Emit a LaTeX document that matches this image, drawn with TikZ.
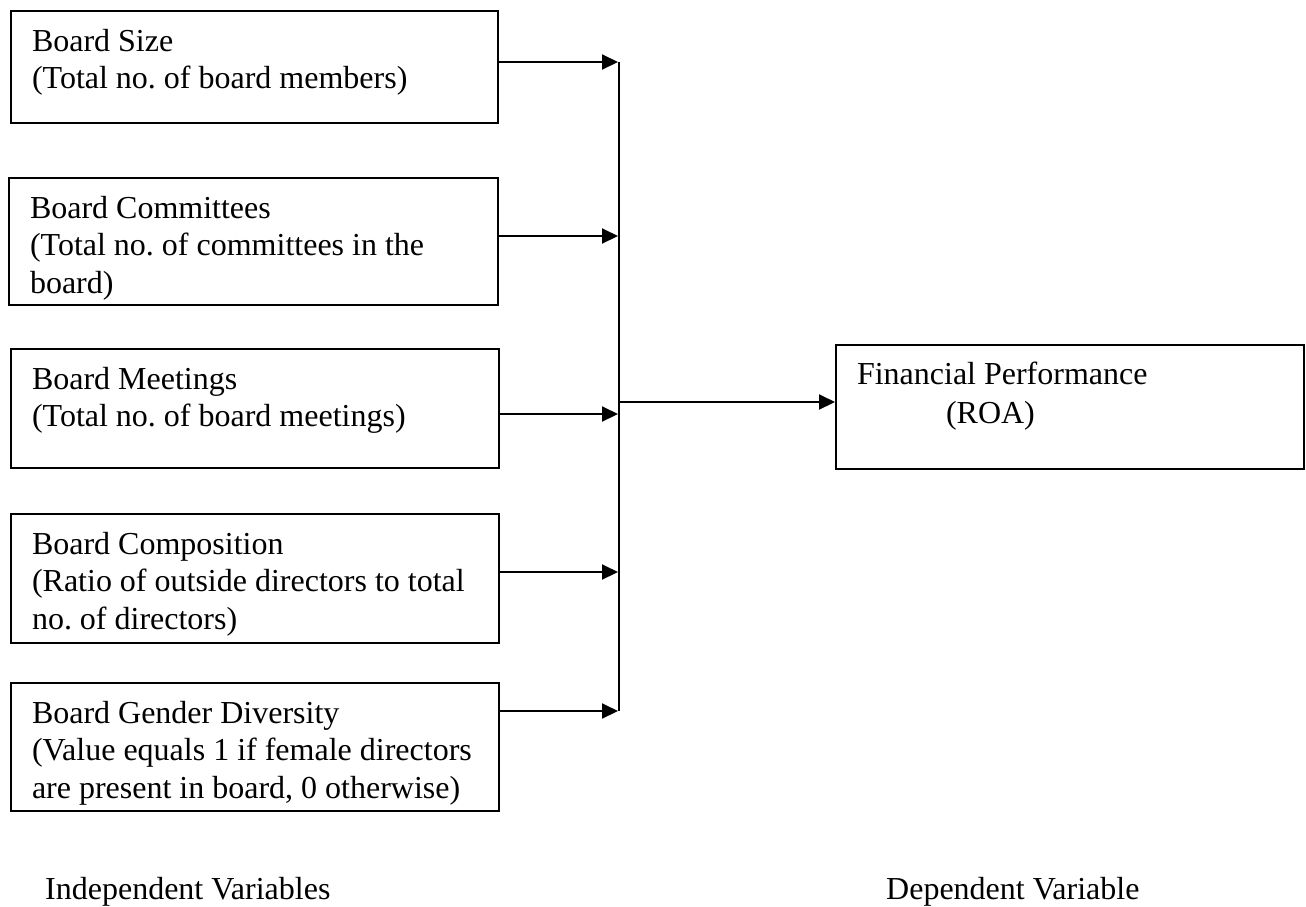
\documentclass[tikz,border=0pt]{standalone}
\usepackage{fontspec}
\setmainfont{Liberation Serif}
\usetikzlibrary{arrows.meta}
\frenchspacing
\newcommand\boxtxt[3]{\parbox[c][#1][t]{#2}{\frenchspacing\leftskip=21pt\relax\rule{0pt}{40pt}#3\par}}
\begin{document}
\begin{tikzpicture}[x=1pt,y=1pt,
  font=\fontsize{32}{37.5}\selectfont,
  bx/.style={draw, line width=2pt, inner sep=0pt, anchor=north west},
  wire/.style={line width=2pt},
  arr/.style={line width=2pt, -{Triangle[length=16pt,width=15pt]}},
  lbl/.style={anchor=base west, inner sep=0pt}]
\useasboundingbox (0,0) rectangle (1306,-906);

\node[bx] (b1) at (10,-10) {\boxtxt{112pt}{487pt}{\mbox{Board Size}\\\mbox{(Total no. of board members)}}};
\node[bx] (b2) at (8,-177) {\boxtxt{127pt}{489pt}{\mbox{Board Committees}\\\mbox{(Total no. of committees in the}\\\mbox{board)}}};
\node[bx] (b3) at (10,-348) {\boxtxt{119pt}{488pt}{\mbox{Board Meetings}\\\mbox{(Total no. of board meetings)}}};
\node[bx] (b4) at (10,-513) {\boxtxt{129pt}{488pt}{\mbox{Board Composition}\\\mbox{(Ratio of outside directors to total}\\\mbox{no. of directors)}}};
\node[bx] (b5) at (10,-682) {\boxtxt{128pt}{488pt}{\mbox{Board Gender Diversity}\\\mbox{(Value equals 1 if female directors}\\\mbox{are present in board, 0 otherwise)}}};
\node[bx] (fp) at (835,-344) {\parbox[c][124pt][t]{468pt}{\leftskip=21pt\relax\rule{0pt}{39pt}\mbox{Financial Performance}\\[2pt]\mbox{\hspace*{89pt}(ROA)}\par}};

\coordinate (j1) at (619,-62);
\coordinate (j2) at (619,-236);
\coordinate (j3) at (619,-414);
\coordinate (j4) at (619,-572);
\coordinate (j5) at (619,-711);
\coordinate (m) at (619,-402);

\draw[wire] (j1) -- (j5);
\foreach \b/\j in {b1/j1,b2/j2,b3/j3,b4/j4,b5/j5}
  \draw[arr, shorten >=1pt] (\b.east |- \j) -- (\j);
\draw[arr] (m) -- (fp.west |- m);

\node[lbl] (iv) at (45,-899) {Independent Variables};
\node[lbl] (dv) at (886,-899) {Dependent Variable};
\end{tikzpicture}
\end{document}
